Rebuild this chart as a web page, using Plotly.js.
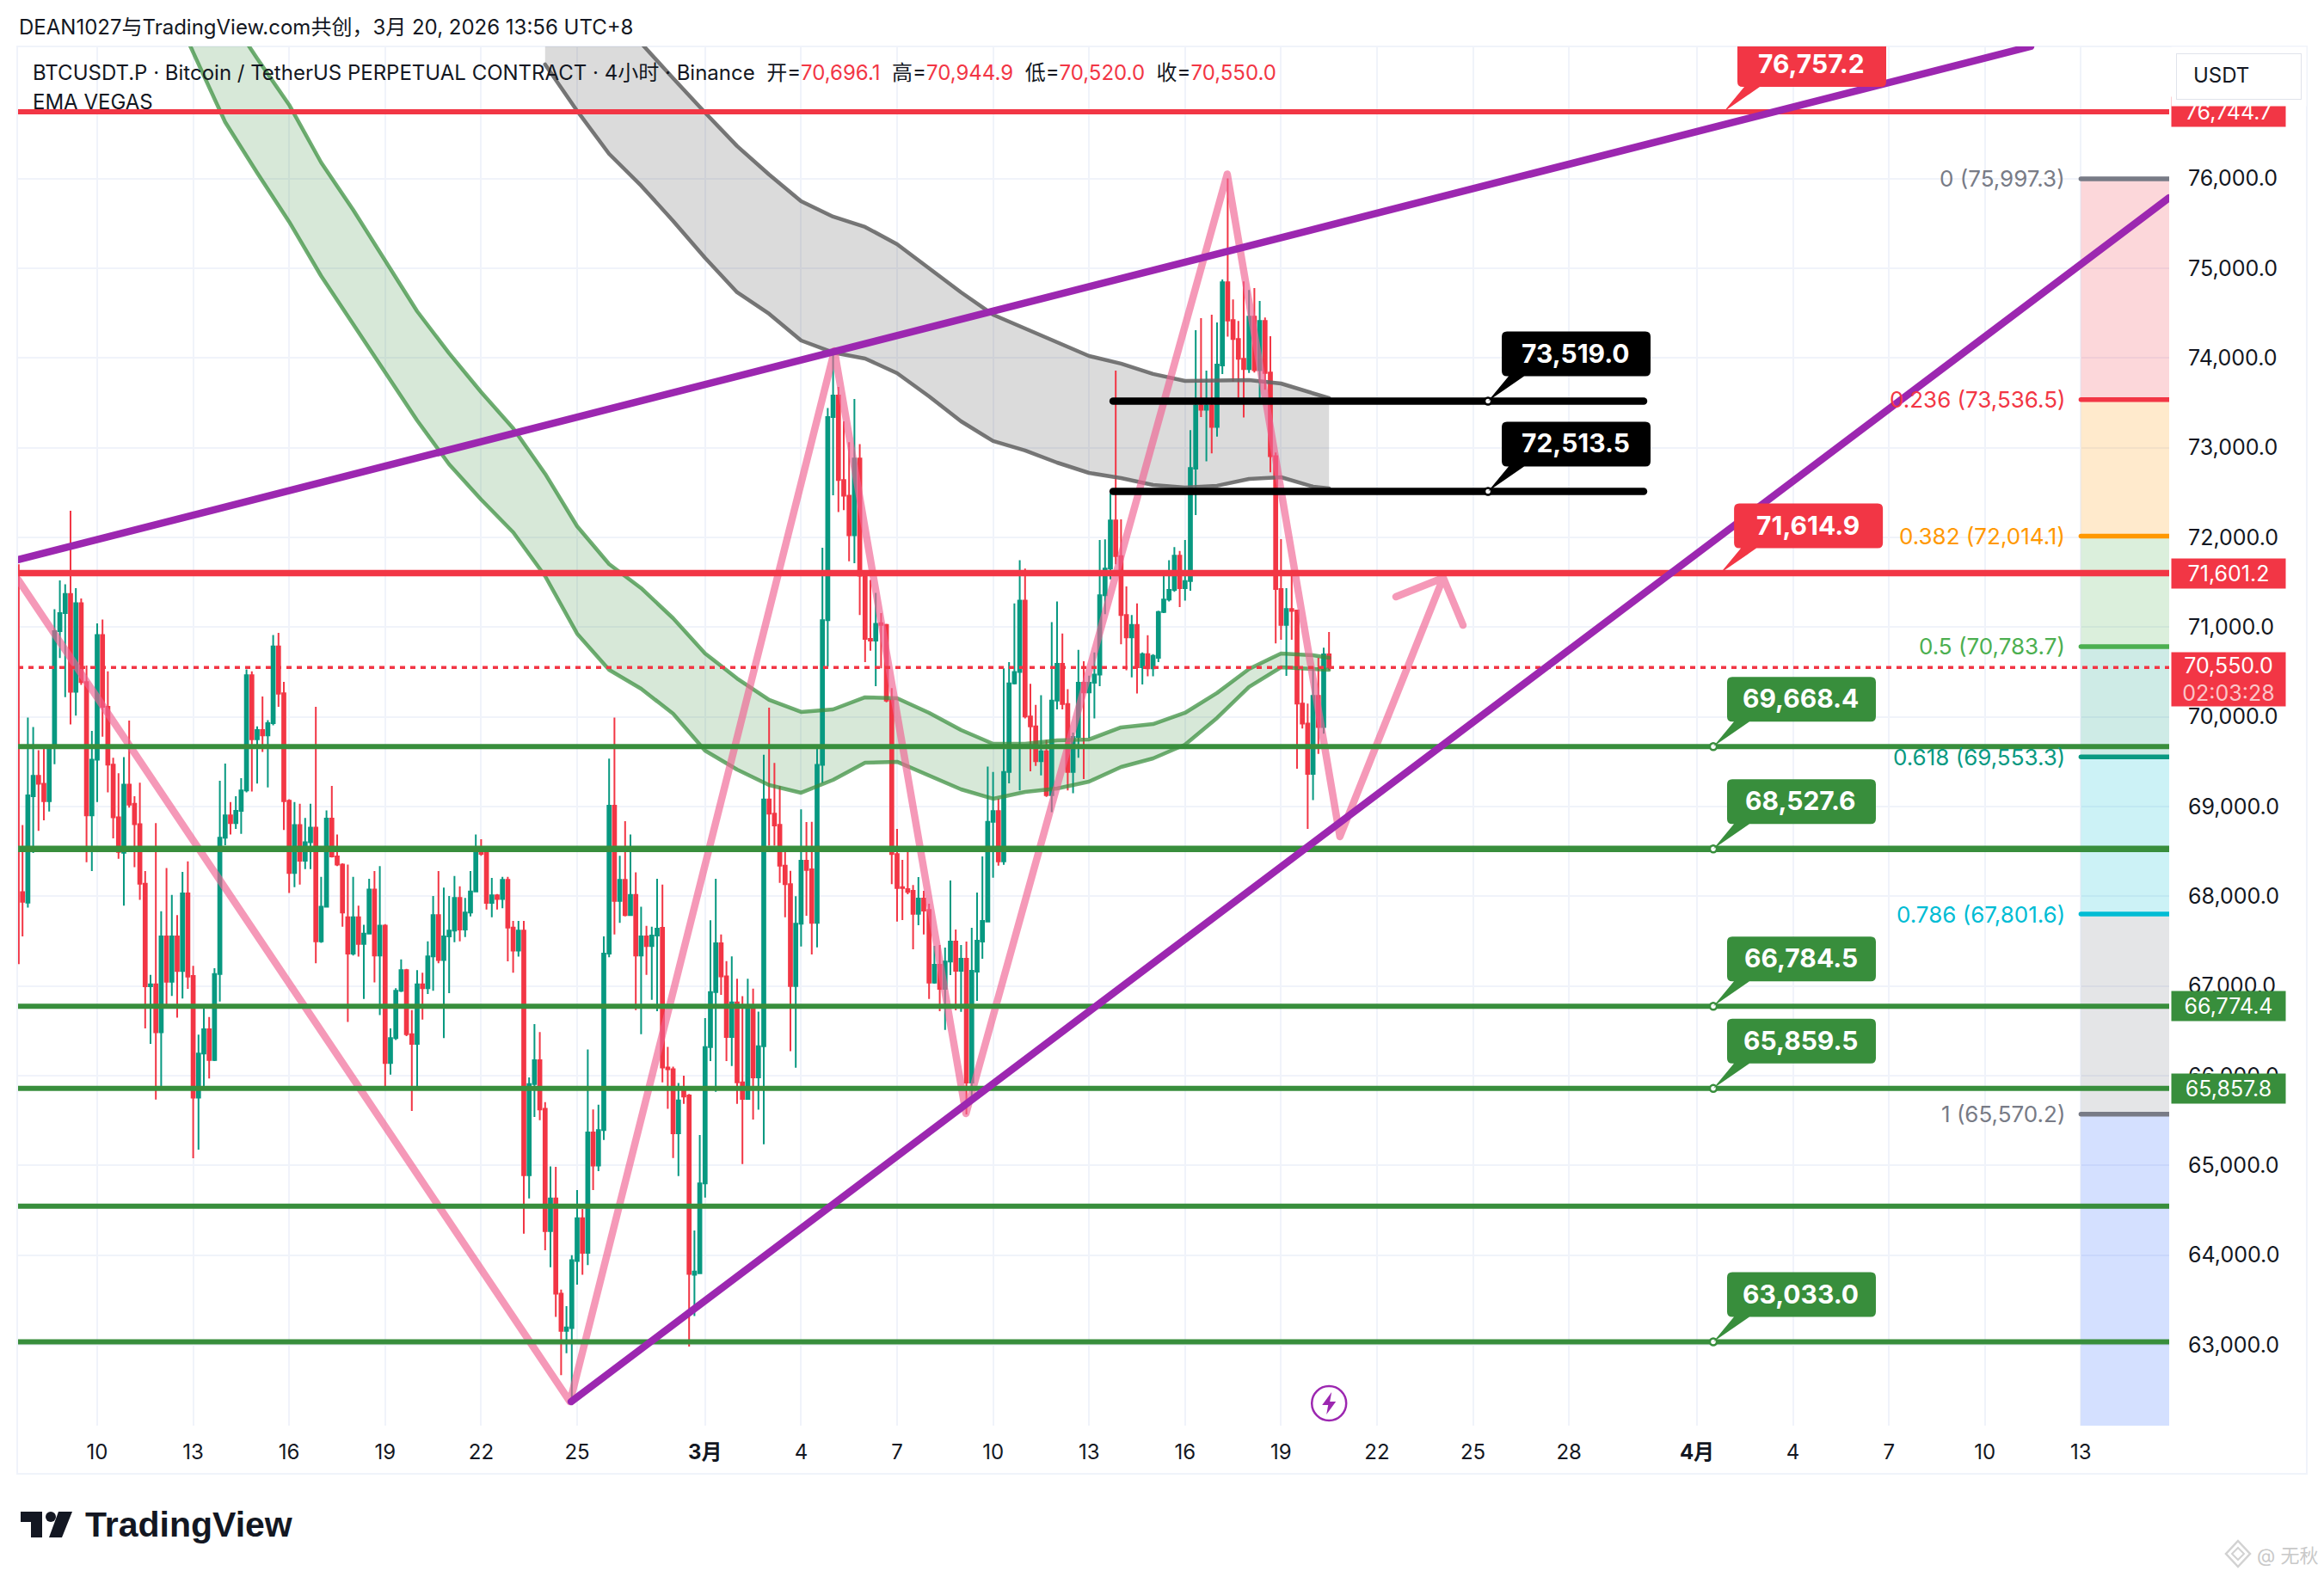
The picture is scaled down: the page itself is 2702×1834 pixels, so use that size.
<!DOCTYPE html>
<html><head><meta charset="utf-8">
<script src="https://cdn.plot.ly/plotly-3.0.1.min.js"></script>
<style>
html,body{margin:0;padding:0;background:#fff}
.js-line{stroke-linecap:round;stroke-linejoin:round}
path.js-line[style*="dasharray"]{stroke-linecap:butt}
</style></head><body><div id="chart" style="width:2702px;height:1834px"></div>
<script>
// ---- candle values (4h bars, first bar 2026-02-07 12:00) ----
const barStart = Date.UTC(2026,1,7,12);
const open = [71692,68046,67930,69116,69342,69253,69060,69651,70956,71157,71371,70280,71268,70387,68902,69522,70913,70113,69467,68880,68486,69244,69030,68803,68140,66997,67018,66483,67553,67048,67553,67168,68033,67113,65756,66248,66518,66175,67134,68653,68902,68816,68953,69180,70464,69749,69852,69792,69929,70785,70263,69064,68260,68795,68397,68602,68765,67498,67883,68867,68444,68354,67767,67361,67767,67468,67583,68076,67340,67673,66141,66419,66946,67177,66462,66355,67018,66976,67331,67789,67288,67553,67618,67981,67630,67819,68054,68525,68495,67926,68011,67969,68183,67652,67395,67618,64891,65907,66172,65632,64268,64631,63571,63156,63186,63934,64411,64026,65368,64998,65394,67361,69009,67947,68183,67789,68016,67340,67553,67446,67562,67648,66091,66072,65357,65834,65779,63780,63798,64800,66318,66933,67476,67107,66432,66817,65926,65742,66751,65981,66329,69080,68921,68796,68342,68134,66999,67693,68396,68300,67703,69466,71077,73343,73582,72640,72464,72023,72879,71574,70870,70850,71045,71025,70182,68470,68102,68080,68061,67805,67974,67847,67038,67236,66968,67272,67495,67169,67303,65923,67160,67495,67719,68830,68949,68390,69386,70373,70500,71295,70003,69895,69506,69617,69128,70182,70591,70142,69386,69776,70381,70273,70381,70472,71355,71653,72190,71792,71136,70886,71025,70552,70699,70540,70659,71168,71307,71415,71796,71434,71514,72768,73470,73423,73470,73231,73918,74844,74423,74212,73991,73876,74461,73864,74413,73838,72905,71426,71026,71202,71186,70148,69924,69365,70234,69886,70696.1];
const high = [71692,68795,69993,69886,69629,69651,69672,71200,71521,71478,72298,71435,71320,70571,69843,71042,71084,70507,69544,69372,69552,69959,69116,69265,68281,67125,68816,67832,68315,68016,67789,68272,68388,67224,66458,66749,66655,67198,69287,69479,69051,69116,69317,70528,70507,69895,70228,69963,70913,70935,70391,69081,69051,69030,68872,69030,70113,68217,68957,69231,68688,68367,68354,68217,67896,67682,68195,68281,68337,67690,66526,66976,67297,67190,66732,67177,67147,67498,68003,68281,68097,68003,68225,68110,67981,68281,68688,68636,68525,68204,68024,68217,68217,67725,67725,67725,65981,66575,66487,65706,64990,64983,63615,63432,64000,64726,64514,66293,65625,65676,67553,69535,69993,68452,68837,68688,68268,67883,67669,67660,68195,68131,66322,66100,65918,65999,65797,64275,65339,66641,67733,68195,67575,67276,67331,67081,66887,67081,66971,66714,69577,70102,69486,69227,68502,68284,68000,68969,68827,68830,69645,71884,73443,74040,73678,73295,73062,73544,73039,71574,71526,71383,71156,71037,70321,68750,68406,68495,68125,68214,68061,67917,67447,67457,67428,68176,67629,67457,67495,67648,68041,68444,69446,69386,69088,70540,70611,71264,71745,71653,70369,70134,70241,69744,71057,71287,70929,70309,69824,70746,70619,70460,70719,71971,71979,72488,73860,72202,71454,71136,71264,70719,70910,70699,71184,71574,71745,71892,71850,71971,73196,74311,74445,73860,74483,74397,74876,76001,74653,74413,74854,74758,74780,74637,74451,74244,72946,71980,71435,71569,71190,70531,70148,70563,70659,70771,70944.9];
const low = [67254,67553,67874,68482,68730,68846,68944,69471,70656,70220,69916,70014,70357,68379,68281,69051,69779,69158,68645,68418,67896,68987,68324,67960,66526,66355,65734,65884,66792,66890,66646,66860,66967,65080,65176,65885,65970,66162,66826,68568,68688,68752,68696,69158,69167,69257,69608,69214,69907,70113,68739,68037,68101,68131,68302,68302,67254,67481,67874,68431,68337,67660,66599,67340,67327,66856,67575,67040,66676,65884,66013,66398,66933,66441,65606,65863,66625,66911,66946,67254,66419,66920,67489,67498,67545,67776,68054,68452,67853,67767,67853,67866,67275,67147,67327,64238,64631,65541,65504,64055,63864,63311,62661,62907,62368,63670,63780,63890,64726,64935,65284,67320,67575,67703,67776,67789,66732,66462,67125,66847,66719,65926,65632,65082,64880,65687,62980,63322,63791,64642,66164,65820,66900,66164,66109,65687,65016,65735,65511,65621,65236,68565,68565,68150,67767,66272,66089,67441,67783,67351,67431,69267,70560,72469,72282,72304,71733,71713,71136,70611,70738,70341,70540,70162,68134,67719,67735,68022,67409,67677,67575,66856,67026,66719,66511,67121,66728,66712,65569,65770,66834,67303,67712,68208,68342,68351,69259,70361,69180,69983,69394,69454,69347,69108,68937,70083,70083,69180,69148,69545,69307,69764,69983,70341,71144,71534,71701,70810,70520,70440,70261,70361,70452,70452,70611,71156,71287,71395,71224,71296,71407,72250,73343,72848,72937,73125,73822,74237,73736,73557,73336,73832,73838,73550,73646,72726,70818,70860,70457,70860,69422,69870,68751,69071,69588,69812,70520];
const close = [67254,67939,69124,69342,69253,69060,69651,70956,71157,71371,70280,71268,70387,68902,69522,70913,70113,69467,68880,68495,69244,69021,68803,68140,66997,67018,66483,67553,67048,67553,67168,68033,67104,65756,66248,66518,66175,67134,68653,68902,68816,68953,69180,70464,69749,69852,69792,69929,70785,70258,69060,68260,68795,68397,68602,68765,67498,67883,68867,68444,68354,67819,67361,67767,67468,67583,68076,67340,67673,66141,66419,66946,67177,66462,66355,67018,66976,67331,67789,67288,67553,67618,67981,67630,67819,68054,68495,68474,67926,68011,67969,68183,67652,67395,67618,64891,65907,66172,65625,64268,64631,63571,63156,63193,63945,64411,64026,65368,64998,65394,67361,69009,67947,68183,67789,68016,67340,67553,67446,67562,67639,66091,66072,65357,65724,65768,63791,63817,64800,66318,66933,67476,67107,66432,66817,65926,65742,66751,65981,66329,69080,68921,68789,68342,68134,66999,67693,68396,68294,67703,69466,71077,73343,73582,72640,72464,72023,72879,71574,70870,70850,71037,71025,70182,68470,68093,68093,68048,67805,67974,67840,67038,67236,66968,67272,67495,67169,67303,65923,67169,67505,67725,68830,68949,68390,69386,70373,70500,71295,70003,69895,69506,69617,69128,70182,70591,70142,69386,69776,70381,70273,70381,70472,71355,71653,72190,71792,71136,70886,71025,70552,70699,70540,70679,71168,71307,71415,71796,71434,71514,72775,73470,73423,73470,73231,73927,74844,74419,74212,73991,73876,74461,73864,74413,73832,72905,71426,71026,71202,71180,70148,69924,69365,70234,69886,70697,70550];

// ---- EMA ribbons, daily readings ----
const greenDates = ['2026-02-12','2026-02-13','2026-02-14','2026-02-15','2026-02-16','2026-02-17','2026-02-18','2026-02-19','2026-02-20','2026-02-21','2026-02-22','2026-02-23','2026-02-24','2026-02-25','2026-02-26','2026-02-27','2026-02-28','2026-03-01','2026-03-02','2026-03-03','2026-03-04','2026-03-05','2026-03-06','2026-03-07','2026-03-08','2026-03-09','2026-03-10','2026-03-11','2026-03-12','2026-03-13','2026-03-14','2026-03-15','2026-03-16','2026-03-17','2026-03-18','2026-03-19','2026-03-20','2026-03-20 12:00'];
const greenUpper = [78854,78394,77876,77339,76822,76179,75652,75077,74521,74052,73620,73218,72710,72125,71703,71435,71099,70707,70428,70189,70055,70083,70218,70208,70045,69853,69700,69700,69738,69748,69882,69920,70045,70266,70534,70707,70687,70658];
const greenLower = [78183,77397,76630,76064,75518,74914,74377,73850,73304,72815,72422,72058,71569,70927,70524,70313,70035,69623,69412,69240,69154,69297,69489,69499,69345,69192,69087,69163,69202,69278,69441,69537,69690,69988,70333,70553,70534,70524];
const grayDates = ['2026-02-24','2026-02-25','2026-02-26','2026-02-27','2026-02-28','2026-03-01','2026-03-02','2026-03-03','2026-03-04','2026-03-05','2026-03-06','2026-03-07','2026-03-08','2026-03-09','2026-03-10','2026-03-11','2026-03-12','2026-03-13','2026-03-14','2026-03-15','2026-03-16','2026-03-17','2026-03-18','2026-03-19','2026-03-20','2026-03-20 12:00'];
const grayUpper = [78681,78288,77905,77512,77119,76735,76362,76045,75748,75576,75461,75269,75001,74732,74483,74330,74167,74023,73937,73822,73745,73754,73754,73716,73601,73553];
const grayLower = [77272,76755,76275,75921,75528,75116,74732,74493,74195,74061,73994,73831,73572,73294,73074,72969,72834,72719,72662,72585,72556,72576,72652,72671,72566,72547];

// ---- drawings ----
const xStart='2026-02-07 12:39', xEnd='2026-04-15 18:12';
const yMin=62099, yMax=77473;
const redLevels=[76744.7,71601.2], redWidths=[6,7.5];
const greenLevels=[69668.4,68527.6,66774.4,65857.8,64546,63033], greenWidths=[6,7.5,6,6,6,6];
const lastPrice=70550;
const zigDates=[xStart,'2026-02-24 18:40','2026-03-05 01:00','2026-03-09 03:40','2026-03-17 07:40','2026-03-20 20:10','2026-03-24 01:40','2026-03-22 14:10','2026-03-24 01:40','2026-03-24 16:30'];
const zigPrices=[71530,62367,74080,65578,76050,68665,71550,71339,71550,71022];
const trendUpperDates=[xStart,'2026-04-11 10:20'], trendUpperPrices=[71751,77473];
const trendLowerDates=['2026-02-24 19:30',xEnd], trendLowerPrices=[62367,75786];
const blackLevels=[73519.0,72513.5], blackDates=['2026-03-13 18:00','2026-03-30 08:00'];
const fibRatios=['0','0.236','0.382','0.5','0.618','0.786','1'];
const fibLevels=[75997.3,73536.5,72014.1,70783.7,69553.3,67801.6,65570.2];
const fibColors=['#787b86','#f23645','#ff9800','#4caf50','#089981','#00bcd4','#787b86'];
const fibFills=['rgba(242,54,69,.2)','rgba(255,152,0,.2)','rgba(76,175,80,.2)','rgba(8,153,129,.2)','rgba(0,188,212,.2)','rgba(120,123,134,.2)','rgba(41,98,255,.2)'];
const fibStart='2026-04-13', fibEnd='2026-04-16';
const xTickDates=['2026-02-10','2026-02-13','2026-02-16','2026-02-19','2026-02-22','2026-02-25','2026-03-01','2026-03-04','2026-03-07','2026-03-10','2026-03-13','2026-03-16','2026-03-19','2026-03-22','2026-03-25','2026-03-28','2026-04-01','2026-04-04','2026-04-07','2026-04-10','2026-04-13'];
const xTickLabels=['10','13','16','19','22','25','<b>3月</b>','4','7','10','13','16','19','22','25','28','<b>4月</b>','4','7','10','13'];
const yTicks=[63000,64000,65000,66000,67000,68000,69000,70000,71000,72000,73000,74000,75000,76000];
const calloutDates=['2026-04-01 20:00','2026-04-01 17:30','2026-03-25 11:15','2026-03-25 11:15','2026-04-01 12:15','2026-04-01 12:15','2026-04-01 12:15','2026-04-01 12:15','2026-04-01 12:15'];
const calloutAnchors=[76744.7,71601.2,73519.0,72513.5,69668.4,68527.6,66774.4,65857.8,63033];
const calloutTexts=['76,757.2','71,614.9','73,519.0','72,513.5','69,668.4','68,527.6','66,784.5','65,859.5','63,033.0'];
const calloutColors=['#f23645','#f23645','#000000','#000000','#388e3c','#388e3c','#388e3c','#388e3c','#388e3c'];
const axisTags=[['76,744.7',76744.7,'#f23645'],['71,601.2',71601.2,'#f23645'],['66,774.4',66774.4,'#388e3c'],['65,857.8',65857.8,'#388e3c']];

// ---- page geometry ----
const W=2702,H=1834,L=21,R=2522,T=54,B=1658;
const fx=p=>(p-L)/(R-L), fy=p=>1-(p-T)/(B-T);
const FONT='Inter, "Noto Sans CJK SC", sans-serif';
const RED='#f23645', TEAL='#089981', INK='#131722';
const times=open.map((_,i)=>new Date(barStart+i*4*3600e3).toISOString().slice(0,16).replace('T',' '));
const over={xaxis:'x2',yaxis:'y2',hoverinfo:'skip',showlegend:false};
const line=(x,y,color,width,extra={})=>Object.assign({type:'scatter',mode:'lines',x,y,line:{color,width}},over,extra);
const poly=(x,y,color)=>({type:'scatter',mode:'lines',x,y,fill:'toself',fillcolor:color,line:{width:0},hoverinfo:'skip',showlegend:false});
const ringX=(a)=>a.concat(a.slice().reverse());

const traces=[];
// fills under the candles
traces.push(poly(ringX(greenDates),greenUpper.concat(greenLower.slice().reverse()),'rgba(56,142,60,.2)'));
traces.push(poly(ringX(grayDates),grayUpper.concat(grayLower.slice().reverse()),'rgba(90,90,90,.22)'));
fibLevels.forEach((v,i)=>{
  const next=i+1<fibLevels.length?fibLevels[i+1]:yMin-100;
  traces.push(poly([fibStart,fibEnd,fibEnd,fibStart],[v,v,next,next],fibFills[i]));
});
// candles
traces.push({type:'candlestick',x:times,open,high,low,close,xaxis:'x2',yaxis:'y2',showlegend:false,hoverinfo:'skip',whiskerwidth:0,
  increasing:{line:{color:TEAL,width:2},fillcolor:TEAL},decreasing:{line:{color:RED,width:2},fillcolor:RED}});
// EMA outlines
[[greenDates,greenUpper],[greenDates,greenLower]].forEach(a=>traces.push(line(a[0],a[1],'rgba(56,142,60,.72)',4.5)));
[[grayDates,grayUpper],[grayDates,grayLower]].forEach(a=>traces.push(line(a[0],a[1],'rgba(100,100,100,.88)',4.5)));
// zig-zag
traces.push(line(zigDates,zigPrices,'rgba(240,98,146,.65)',8.5));
// levels
redLevels.forEach((v,i)=>traces.push(line([xStart,xEnd],[v,v],RED,redWidths[i])));
greenLevels.forEach((v,i)=>traces.push(line([xStart,xEnd],[v,v],'#388e3c',greenWidths[i])));
traces.push(line([xStart,xEnd],[lastPrice,lastPrice],RED,3.5,{line:{color:RED,width:3.5,dash:'6px,6px'}}));
blackLevels.forEach(v=>traces.push(line(blackDates,[v,v],'#000',8.5)));
// fib lines
fibLevels.forEach((v,i)=>traces.push(line([fibStart,fibEnd],[v,v],fibColors[i],5.5)));
// trend lines
traces.push(line(trendUpperDates,trendUpperPrices,'#9c27b0',8.5));
traces.push(line(trendLowerDates,trendLowerPrices,'#9c27b0',8.5));

// callouts
const bubble='M0,0 L24,29 L22,29 Q16,29 16,35 L16,75 Q16,81 22,81 L183,81 Q189,81 189,75 L189,35 Q189,29 183,29 L42,29 Z';
const shapes=[];
const annotations=[];
calloutTexts.forEach((t,i)=>{
  shapes.push({type:'path',layer:'above',xref:'x',yref:'y',xsizemode:'pixel',ysizemode:'pixel',xanchor:calloutDates[i],yanchor:calloutAnchors[i],path:bubble,fillcolor:calloutColors[i],line:{width:0}});
  annotations.push({xref:'x',yref:'y',x:calloutDates[i],y:calloutAnchors[i],xshift:102,yshift:56,showarrow:false,text:'<b>'+t+'</b>',font:{family:FONT,size:30,color:'#fff'}});
});
traces.push({type:'scatter',mode:'markers',x:calloutDates.slice(2),y:calloutAnchors.slice(2),xaxis:'x2',yaxis:'y2',hoverinfo:'skip',showlegend:false,
  marker:{size:8,color:'#fff',line:{width:2.5,color:calloutColors.slice(2)}}});

// fib labels
fibLevels.forEach((v,i)=>annotations.push({xref:'x',yref:'y',x:fibStart,y:v,xshift:-16,xanchor:'right',showarrow:false,
  text:fibRatios[i]+' ('+v.toLocaleString('en-US',{minimumFractionDigits:1})+')',font:{family:FONT,size:26,color:fibColors[i]}}));

// price tags
axisTags.forEach(t=>annotations.push({xref:'paper',yref:'y',x:fx(2524),y:t[1],xanchor:'left',showarrow:false,text:t[0],bgcolor:t[2],width:132,height:34,borderpad:0,font:{family:FONT,size:25,color:'#fff'}}));
annotations.push({xref:'paper',yref:'y',x:fx(2524),y:lastPrice,yshift:-14,xanchor:'left',showarrow:false,text:'70,550.0<br><span style="color:#fbc4c8">02:03:28</span>',bgcolor:RED,width:132,height:62,borderpad:0,font:{family:FONT,size:25,color:'#fff'}});
// mask and currency button
annotations.push({xref:'paper',yref:'paper',x:fx(2524),y:fy(54),xanchor:'left',yanchor:'top',showarrow:false,text:' ',bgcolor:'#fff',width:156,height:68,borderpad:0,font:{size:10}});
annotations.push({xref:'paper',yref:'paper',x:fx(2530),y:fy(62),xanchor:'left',yanchor:'top',showarrow:false,text:' ',bgcolor:'#fff',bordercolor:'#e0e3eb',borderwidth:1,width:144,height:52,borderpad:0,font:{size:10}});
annotations.push({xref:'paper',yref:'paper',x:fx(2548),y:fy(88),xanchor:'left',yanchor:'middle',showarrow:false,text:'USDT',font:{family:FONT,size:24,color:INK}});

// header texts
const hdr=(px,py,text,size,color,extra={})=>Object.assign({xref:'paper',yref:'paper',x:fx(px),y:fy(py),xanchor:'left',yanchor:'middle',showarrow:false,text,font:{family:FONT,size,color}},extra);
const rv=s=>'<span style="color:#f23645">'+s+'</span>';
annotations.push(hdr(20,31,'DEAN1027与TradingView.com共创，3月 20, 2026 13:56 UTC+8',24,INK));
annotations.push(hdr(36,85,'BTCUSDT.P · Bitcoin / TetherUS PERPETUAL CONTRACT · 4小时 · Binance&nbsp;&nbsp;开='+rv('70,696.1')+'&nbsp;&nbsp;高='+rv('70,944.9')+'&nbsp;&nbsp;低='+rv('70,520.0')+'&nbsp;&nbsp;收='+rv('70,550.0'),24,INK));
annotations.push(hdr(36,119,'EMA VEGAS',24,INK));
annotations.push(hdr(97,1773,'<b>TradingView</b>',41,INK,{font:{family:'"Liberation Sans"',size:41,color:INK}}));
annotations.push(hdr(2622,1809,'@ 无秋',22,'#c9c9c9'));

// frame, logo, watermark icon, replay badge
const pp=(pts)=>'M'+pts.map(p=>fx(p[0])+','+fy(p[1])).join(' L')+' Z';
shapes.push({type:'rect',layer:'below',xref:'paper',yref:'paper',x0:fx(20),x1:fx(2682),y0:fy(54),y1:fy(1714),line:{color:'#f0f3fa',width:2}});
shapes.push({type:'path',xref:'paper',yref:'paper',path:pp([[24,1758],[49,1758],[49,1788],[36,1788],[36,1770],[24,1770]]),fillcolor:INK,line:{width:0}});
shapes.push({type:'circle',xref:'paper',yref:'paper',x0:fx(53),x1:fx(65),y0:fy(1758),y1:fy(1770),fillcolor:INK,line:{width:0}});
shapes.push({type:'path',xref:'paper',yref:'paper',path:pp([[68,1758],[84,1758],[72,1788],[57,1788]]),fillcolor:INK,line:{width:0}});
shapes.push({type:'path',xref:'paper',yref:'paper',path:pp([[2602,1792],[2616,1807],[2602,1822],[2588,1807]]),fillcolor:'rgba(0,0,0,0)',line:{color:'#d2d2d2',width:2.5}});
shapes.push({type:'path',xref:'paper',yref:'paper',path:pp([[2602,1800],[2609,1807],[2602,1814],[2595,1807]]),fillcolor:'rgba(0,0,0,0)',line:{color:'#d2d2d2',width:2}});
const badgeDate='2026-03-20 12:00', badgePrice=62348;
shapes.push({type:'circle',layer:'above',xref:'x',yref:'y',xsizemode:'pixel',ysizemode:'pixel',xanchor:badgeDate,yanchor:badgePrice,x0:-20,x1:20,y0:-20,y1:20,fillcolor:'#fff',line:{color:'#9c27b0',width:2.5}});
shapes.push({type:'path',layer:'above',xref:'x',yref:'y',xsizemode:'pixel',ysizemode:'pixel',xanchor:badgeDate,yanchor:badgePrice,path:'M3,13 L-8,-2 L-1,-2 L-3,-13 L8,2 L1,2 Z',fillcolor:'#9c27b0',line:{width:0}});

const layout={
  width:W,height:H,autosize:false,showlegend:false,paper_bgcolor:'#fff',plot_bgcolor:'#fff',
  margin:{l:L,r:W-R,t:T,b:H-B,pad:0},boxgap:0.4,boxgroupgap:0,boxmode:'overlay',
  xaxis:{type:'date',range:[xStart,xEnd],tickmode:'array',tickvals:xTickDates,ticktext:xTickLabels,showgrid:true,gridcolor:'#f0f3fa',gridwidth:2,
    zeroline:false,showline:false,ticks:'outside',ticklen:9,tickcolor:'rgba(0,0,0,0)',tickfont:{family:FONT,size:24,color:INK},tickangle:0,rangeslider:{visible:false}},
  yaxis:{side:'right',range:[yMin,yMax],tickmode:'array',tickvals:yTicks,tickformat:',.1f',showgrid:true,gridcolor:'#f0f3fa',gridwidth:2,
    zeroline:false,showline:false,ticks:'outside',ticklen:16,tickcolor:'rgba(0,0,0,0)',tickfont:{family:FONT,size:25,color:INK}},
  xaxis2:{type:'date',overlaying:'x',range:[xStart,xEnd],visible:false,rangeslider:{visible:false}},
  yaxis2:{overlaying:'y',range:[yMin,yMax],visible:false,side:'right'},
  shapes,annotations
};
Plotly.newPlot('chart',traces,layout,{staticPlot:true,displayModeBar:false});
</script></body></html>
